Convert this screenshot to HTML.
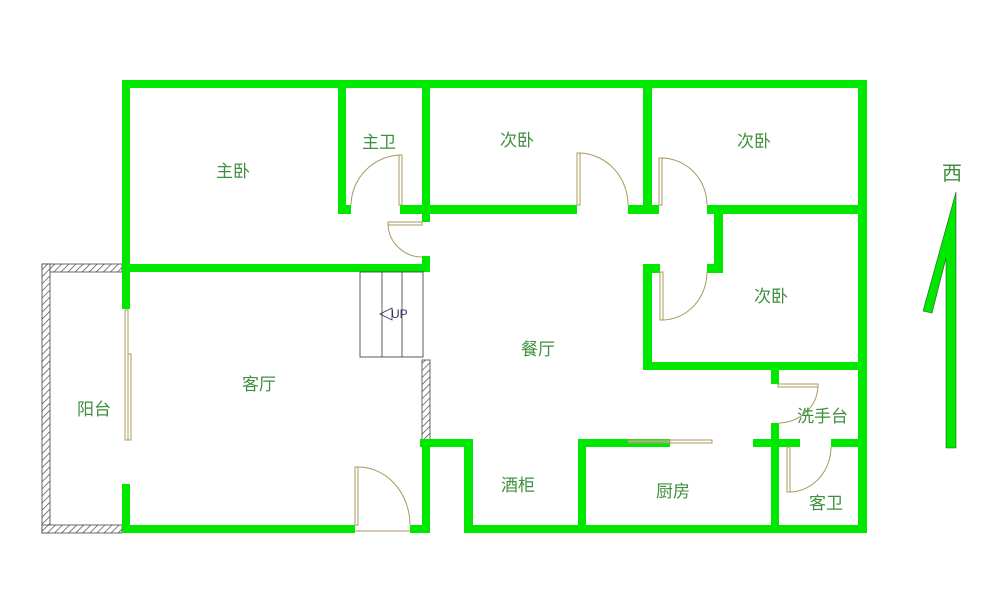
<!DOCTYPE html>
<html><head><meta charset="utf-8"><style>
html,body{margin:0;padding:0;background:#fff;}
svg{display:block}
text{font-family:"Liberation Sans","Noto Sans CJK SC",sans-serif;font-size:17px;fill:#3f8f3f;}
</style></head><body>
<svg width="1000" height="599" viewBox="0 0 1000 599" xmlns="http://www.w3.org/2000/svg">
<defs>
<pattern id="h" width="5" height="5" patternUnits="userSpaceOnUse" patternTransform="rotate(45)">
<rect width="5" height="5" fill="#fff"/><line x1="0" y1="0" x2="0" y2="5" stroke="#555" stroke-width="1.5"/>
</pattern>
</defs>
<g fill="url(#h)" stroke="#444" stroke-width="0.8">
<rect x="42" y="264" width="80" height="8"/>
<rect x="42" y="264" width="8" height="269"/>
<rect x="42" y="525" width="80" height="8"/>
<rect x="422" y="360" width="8" height="87"/>
</g>
<g fill="#00e800">
<rect x="122" y="80" width="745" height="8"/>
<rect x="858" y="80" width="9" height="453"/>
<rect x="464" y="525" width="403" height="8"/>
<rect x="130" y="525" width="225" height="8"/>
<rect x="410" y="525" width="20" height="8"/>
<rect x="122" y="80" width="8" height="192"/>
<rect x="122" y="272" width="8" height="37"/>
<rect x="122" y="484" width="8" height="49"/>
<rect x="338" y="80" width="8" height="134"/>
<rect x="338" y="205" width="13" height="9"/>
<rect x="422" y="80" width="8" height="142"/>
<rect x="400" y="205" width="177" height="9"/>
<rect x="130" y="264" width="300" height="8"/>
<rect x="422" y="256" width="8" height="16"/>
<rect x="643" y="80" width="9" height="134"/>
<rect x="628" y="205" width="31" height="9"/>
<rect x="707" y="205" width="160" height="9"/>
<rect x="714" y="205" width="9" height="68"/>
<rect x="707" y="264" width="16" height="9"/>
<rect x="643" y="264" width="17" height="9"/>
<rect x="643" y="264" width="9" height="106"/>
<rect x="643" y="362" width="224" height="8"/>
<rect x="771" y="370" width="8" height="14"/>
<rect x="771" y="423" width="8" height="110"/>
<rect x="753" y="439" width="47" height="8"/>
<rect x="831" y="439" width="36" height="8"/>
<rect x="578" y="439" width="92" height="8"/>
<rect x="578" y="439" width="8" height="94"/>
<rect x="420" y="439" width="53" height="8"/>
<rect x="464" y="439" width="9" height="94"/>
<rect x="422" y="447" width="8" height="86"/>
</g>
<polygon points="956,192 956,448 946,448 946,258 932,313 923,311" fill="#00e800" stroke="#2a5a2a" stroke-width="0.6"/>
<g fill="none" stroke="#a89a5a" stroke-width="1">
<rect x="399" y="155" width="3" height="50" fill="#fff"/>
<path d="M351 205 A51 51 0 0 1 402 155"/>
<rect x="388" y="222" width="34" height="3" fill="#fff"/>
<path d="M388 224 A34 34 0 0 0 422 257"/>
<rect x="577" y="153" width="3" height="52" fill="#fff"/>
<path d="M580 153 A50 52 0 0 1 628 205"/>
<rect x="659" y="158" width="3" height="47" fill="#fff"/>
<path d="M662 158 A46 47 0 0 1 707 205"/>
<rect x="660" y="272" width="3" height="48" fill="#fff"/>
<path d="M663 320 A45 48 0 0 0 707 272"/>
<rect x="778" y="384" width="40" height="3" fill="#fff"/>
<path d="M818 386 A40 38 0 0 1 779 423"/>
<rect x="787" y="447" width="3" height="45" fill="#fff"/>
<path d="M790 492 A42 45 0 0 0 831 447"/>
<rect x="355" y="467" width="3" height="58" fill="#fff"/>
<path d="M358 467 A52 58 0 0 1 410 525"/>
<line x1="355" y1="531" x2="410" y2="531"/>
<rect x="125" y="310" width="3" height="130" fill="#fff"/>
<rect x="128" y="354" width="3" height="86" fill="#fff"/>
<rect x="670" y="440" width="42" height="3" fill="#fff"/>
<rect x="628" y="440" width="42" height="3" fill="#6ad66a"/>
</g>
<g fill="none" stroke="#333" stroke-width="0.8">
<rect x="360" y="272" width="63" height="85"/>
<line x1="382" y1="272" x2="382" y2="357"/>
<line x1="402" y1="272" x2="402" y2="357"/>
<path d="M380 314 L392 308 L392 320 Z" stroke="#336"/>
</g>
<text x="391" y="318" style="font-size:12px;fill:#336">UP</text>
<text x="216" y="177">主卧</text>
<text x="362" y="148">主卫</text>
<text x="500" y="146">次卧</text>
<text x="737" y="147">次卧</text>
<text x="754" y="302">次卧</text>
<text x="521" y="355">餐厅</text>
<text x="242" y="390">客厅</text>
<text x="77" y="415">阳台</text>
<text x="797" y="422">洗手台</text>
<text x="501" y="491">酒柜</text>
<text x="656" y="497">厨房</text>
<text x="809" y="509">客卫</text>
<text x="942" y="180" style="font-size:20px">西</text>
</svg>
</body></html>
